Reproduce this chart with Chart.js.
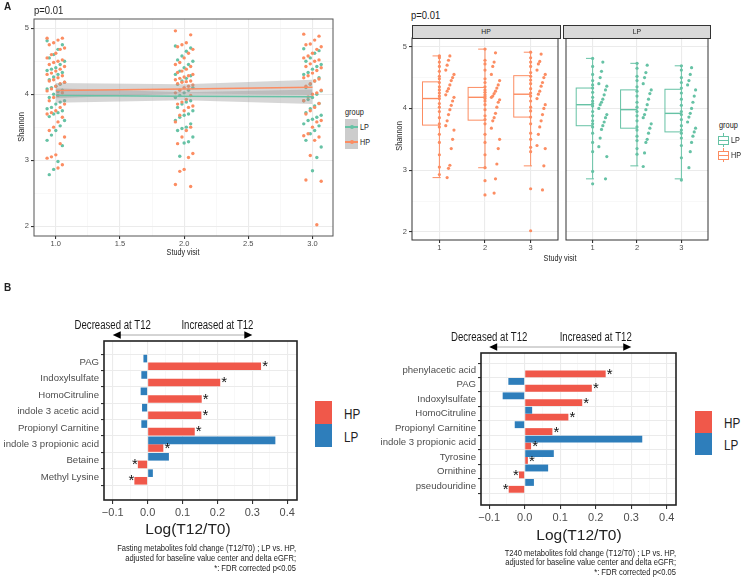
<!DOCTYPE html>
<html>
<head>
<meta charset="utf-8">
<script src="https://cdn.jsdelivr.net/npm/chart.js@4.4.0/dist/chart.umd.min.js"></script>
<style>
body { margin:0; background:#fff; width:747px; height:579px; position:relative; overflow:hidden;
  font-family:"Liberation Sans",Arial,sans-serif; }
canvas { position:absolute; }
.t { position:absolute; white-space:nowrap; color:#222; line-height:1; }
</style>
</head>
<body>
<canvas id="shannonLine" style="left:0;top:0;width:340px;height:262px" width="340" height="262"></canvas>
<canvas id="boxHP" style="left:380px;top:30px;width:182px;height:240px" width="182" height="240"></canvas>
<canvas id="boxLP" style="left:562px;top:30px;width:150px;height:240px" width="150" height="240"></canvas>
<canvas id="fasting" style="left:0;top:310px;width:300px;height:212px" width="300" height="212"></canvas>
<canvas id="t240" style="left:370px;top:318px;width:310px;height:209px" width="310" height="209"></canvas>
<script>
// ---- data ----
var visits = [1, 2, 3];

// Shannon index per patient
var hpVisit1 = [4.85,4.85,4.82,4.78,4.75,4.70,4.68,4.62,4.60,4.55,4.52,4.50,4.48,4.45,4.42,4.38,4.35,4.32,4.30,4.28,4.25,4.22,4.20,4.18,4.16,4.12,4.08,4.05,4.02,3.98,3.95,3.90,3.85,3.80,3.75,3.72,3.70,3.65,3.58,3.50,3.45,3.35,3.25,3.08,3.05,3.03,2.93,2.88];
var hpVisit2 = [4.96,4.90,4.78,4.75,4.72,4.68,4.62,4.55,4.48,4.45,4.42,4.38,4.35,4.33,4.30,4.28,4.26,4.24,4.22,4.20,4.19,4.18,4.16,4.14,4.12,4.10,4.06,4.02,3.98,3.92,3.88,3.85,3.82,3.80,3.75,3.68,3.58,3.50,3.45,3.35,3.25,3.10,3.04,2.86,2.83,2.63,2.60];
var hpVisit3 = [4.91,4.88,4.82,4.76,4.75,4.72,4.68,4.62,4.58,4.55,4.52,4.50,4.46,4.42,4.40,4.36,4.32,4.28,4.25,4.23,4.20,4.16,4.12,4.06,4.02,4.00,3.96,3.90,3.86,3.80,3.75,3.70,3.60,3.58,3.50,3.40,3.37,3.35,3.30,3.07,2.70,2.68,2.02];
var lpVisit1 = [4.81,4.75,4.68,4.60,4.55,4.50,4.45,4.40,4.38,4.36,4.33,4.30,4.26,4.22,4.18,4.15,4.12,4.10,4.08,4.06,4.04,4.00,3.95,3.90,3.88,3.85,3.80,3.78,3.75,3.72,3.70,3.66,3.60,3.52,3.45,3.38,3.30,3.22,2.98,2.86,2.78];
var lpVisit2 = [4.73,4.70,4.65,4.58,4.52,4.50,4.45,4.40,4.35,4.30,4.28,4.24,4.20,4.15,4.10,4.06,4.02,3.98,3.95,3.90,3.88,3.85,3.80,3.75,3.70,3.68,3.65,3.60,3.55,3.50,3.48,3.45,3.35,3.28,3.26,3.06];
var lpVisit3 = [4.69,4.66,4.62,4.55,4.50,4.45,4.42,4.38,4.33,4.30,4.25,4.20,4.15,4.10,4.05,4.00,3.95,3.92,3.90,3.86,3.82,3.78,3.72,3.68,3.65,3.62,3.60,3.55,3.52,3.45,3.40,3.30,3.20,3.04,2.84];

// linear fits with confidence band
var hpFit = [4.055, 4.08, 4.105];
var hpBandLow = [3.94, 4.01, 3.99];
var hpBandHigh = [4.17, 4.15, 4.22];
var lpFit = [3.98, 3.97, 3.96];
var lpBandLow = [3.87, 3.91, 3.85];
var lpBandHigh = [4.09, 4.03, 4.07];

// boxplot stats per visit
var hpQ1 = [3.73, 3.81, 3.86], hpMedian = [4.16, 4.18, 4.23], hpQ3 = [4.43, 4.34, 4.53];
var hpWhiskLo = [2.88, 3.04, 3.07], hpWhiskHi = [4.85, 4.96, 4.91];
var lpQ1 = [3.72, 3.68, 3.62], lpMedian = [4.06, 3.98, 3.92], lpQ3 = [4.33, 4.30, 4.31];
var lpWhiskLo = [2.86, 3.07, 2.86], lpWhiskHi = [4.81, 4.73, 4.69];

// metabolite fold changes, Log(T12/T0)
var fastingNames = ['PAG', 'Indoxylsulfate', 'HomoCitruline', 'indole 3 acetic acid', 'Propionyl Carnitine', 'indole 3 propionic acid', 'Betaine', 'Methyl Lysine'];
var fastingHP = [0.325, 0.208, 0.155, 0.154, 0.135, 0.045, -0.028, -0.038];
var fastingLP = [-0.012, -0.018, -0.020, -0.016, -0.018, 0.366, 0.061, 0.015];
var t240Names = ['phenylacetic acid', 'PAG', 'Indoxylsulfate', 'HomoCitruline', 'Propionyl Carnitine', 'indole 3 propionic acid', 'Tyrosine', 'Ornithine', 'pseudouridine'];
var t240HP = [0.228, 0.189, 0.162, 0.123, 0.078, 0.018, 0.009, -0.016, -0.045];
var t240LP = [0, -0.046, -0.062, 0.021, -0.028, 0.331, 0.082, 0.066, 0.026];
var arrowSpan = [-0.1, 0.3];
var arrowTextAt = [-0.1, 0.2];

// ---- style ----
var HP_COL = '#FC8D62', LP_COL = '#66C2A5';
var HP_BAR = '#F0584A', LP_BAR = '#2E7EBB';
var FONT = '"Liberation Sans",Arial,sans-serif';
Chart.defaults.font.family = FONT;
Chart.defaults.animation = false;
Chart.defaults.plugins.legend.display = false;
Chart.defaults.plugins.tooltip.enabled = false;

function isStep(v, step) { return Math.abs(v / step - Math.round(v / step)) < 1e-6; }

function gridOpts(major, tickLen) {
  return {
    color: function(c) { return isStep(c.tick.value, major) ? '#EBEBEB' : '#F4F4F4'; },
    lineWidth: function(c) { return isStep(c.tick.value, major) ? 1.1 : 0.6; },
    tickColor: function(c) { return isStep(c.tick.value, major) ? '#333' : 'rgba(0,0,0,0)'; },
    tickLength: tickLen
  };
}

function border(color, w) {
  return { id: 'border', afterDraw: function(chart) {
    var a = chart.chartArea, c = chart.ctx;
    c.save(); c.strokeStyle = color; c.lineWidth = w;
    c.strokeRect(a.left, a.top, a.right - a.left, a.bottom - a.top);
    c.restore();
  }};
}

// absolutely placed text; sx squeezes it sideways like the narrow figure font
function txt(s, x, y, o) {
  o = o || {};
  var d = document.createElement('div');
  d.className = 't';
  d.textContent = s;
  d.style.left = x + 'px';
  d.style.top = y + 'px';
  d.style.fontSize = (o.size || 9) + 'px';
  if (o.bold) d.style.fontWeight = 'bold';
  if (o.color) d.style.color = o.color;
  var tx = o.align == 'c' ? '-50%' : o.align == 'r' ? '-100%' : '0';
  var ox = o.align == 'c' ? '50%' : o.align == 'r' ? '100%' : '0';
  d.style.transformOrigin = ox + ' 50%';
  d.style.transform = 'translate(' + tx + ',-50%)' + (o.rot ? ' rotate(-90deg)' : '') + ' scaleX(' + (o.sx || 1) + ')';
  document.body.appendChild(d);
  return d;
}

function box(x, y, w, h, css) {
  var d = document.createElement('div');
  d.style.position = 'absolute';
  d.style.left = x + 'px'; d.style.top = y + 'px';
  d.style.width = w + 'px'; d.style.height = h + 'px';
  d.style.cssText += css || '';
  document.body.appendChild(d);
  return d;
}

// ---- A left: Shannon vs study visit ----
function swarm(vals, visit) {
  return vals.map(function(v, i) { return { x: visit + (((i * 7) % 9) - 4) * 0.017, y: v }; });
}
function fitPts(arr) { return arr.map(function(v, i) { return { x: visits[i], y: v }; }); }

var hpPts = swarm(hpVisit1, 1).concat(swarm(hpVisit2, 2), swarm(hpVisit3, 3));
var lpPts = swarm(lpVisit1, 1).concat(swarm(lpVisit2, 2), swarm(lpVisit3, 3));

new Chart(document.getElementById('shannonLine'), {
  type: 'scatter',
  data: {
    datasets: [
      { data: fitPts(lpFit), showLine: true, borderColor: LP_COL, borderWidth: 1.5, pointRadius: 0, order: 0 },
      { data: fitPts(hpFit), showLine: true, borderColor: HP_COL, borderWidth: 1.5, pointRadius: 0, order: 0 },
      { data: fitPts(lpBandHigh), showLine: true, borderWidth: 0, pointRadius: 0, fill: '+1', backgroundColor: 'rgba(153,153,153,0.4)', order: 1 },
      { data: fitPts(lpBandLow), showLine: true, borderWidth: 0, pointRadius: 0, order: 1 },
      { data: fitPts(hpBandHigh), showLine: true, borderWidth: 0, pointRadius: 0, fill: '+1', backgroundColor: 'rgba(153,153,153,0.4)', order: 1 },
      { data: fitPts(hpBandLow), showLine: true, borderWidth: 0, pointRadius: 0, order: 1 },
      { data: lpPts, pointRadius: 1.7, backgroundColor: LP_COL, borderWidth: 0, order: 3 },
      { data: hpPts, pointRadius: 1.7, backgroundColor: HP_COL, borderWidth: 0, order: 2 }
    ]
  },
  options: {
    responsive: false,
    layout: { padding: { top: 19, right: 7 } },
    scales: {
      x: { type: 'linear', min: 0.83, max: 3.16,
        ticks: { stepSize: 0.25, includeBounds: false, autoSkip: false, maxRotation: 0, padding: 0, color: '#4d4d4d', font: { size: 7.5 },
          callback: function(v) { return isStep(v, 0.5) ? v.toFixed(1) : ''; } },
        grid: gridOpts(0.5, 3), border: { display: false },
        afterFit: function(s) { s.height = 26; } },
      y: { min: 1.85, max: 5.14,
        ticks: { stepSize: 0.5, includeBounds: false, autoSkip: false, padding: 2, color: '#4d4d4d', font: { size: 7.5 },
          callback: function(v) { return isStep(v, 1) ? String(v) : ''; } },
        grid: gridOpts(1, 3), border: { display: false },
        afterFit: function(s) { s.width = 34; } }
    }
  },
  plugins: [border('#555', 1)]
});

// ---- A right: boxplots faceted by group ----
function jit(vals, visit) {
  return vals.map(function(v, i) { return { x: i % 2 ? visit + 0.14 + ((i * 3) % 7) * 0.03 : visit, y: v }; });
}

function boxPlot(q1, med, q3, lo, hi, col) {
  return { id: 'boxplot', beforeDatasetsDraw: function(chart) {
    var c = chart.ctx, xs = chart.scales.x, ys = chart.scales.y;
    c.save(); c.strokeStyle = col; c.lineWidth = 1;
    visits.forEach(function(v, i) {
      var xr = xs.getPixelForValue(v), xl = xs.getPixelForValue(v - 0.37);
      var xc = xs.getPixelForValue(v - 0.15), xe = xs.getPixelForValue(v + 0.03);
      var y1 = ys.getPixelForValue(q1[i]), ym = ys.getPixelForValue(med[i]), y3 = ys.getPixelForValue(q3[i]);
      var yl = ys.getPixelForValue(lo[i]), yh = ys.getPixelForValue(hi[i]);
      c.strokeRect(xl, y3, xr - xl, y1 - y3);
      c.beginPath();
      c.moveTo(xr, y3); c.lineTo(xr, yh);
      c.moveTo(xr, y1); c.lineTo(xr, yl);
      c.moveTo(xc, yh); c.lineTo(xe, yh);
      c.moveTo(xc, yl); c.lineTo(xe, yl);
      c.stroke();
      c.lineWidth = 1.4;
      c.beginPath(); c.moveTo(xl, ym); c.lineTo(xr, ym); c.stroke();
      c.lineWidth = 1;
    });
    c.restore();
  }};
}

function facet(id, pts, col, stats, showY) {
  new Chart(document.getElementById(id), {
    type: 'scatter',
    data: { datasets: [{ data: pts, pointRadius: 1.6, backgroundColor: col, borderWidth: 0 }] },
    options: {
      responsive: false,
      layout: { padding: { top: 8, right: 2, left: showY ? 0 : 1 } },
      scales: {
        x: { type: 'linear', min: 0.4, max: 3.6,
          ticks: { stepSize: 1, includeBounds: false, autoSkip: false, maxRotation: 0, padding: 0, color: '#4d4d4d', font: { size: 7.5 } },
          grid: { color: '#EBEBEB', lineWidth: 1.1, tickColor: '#333', tickLength: 3 }, border: { display: false },
          afterFit: function(s) { s.height = 30; } },
        y: { min: 1.87, max: 5.14,
          ticks: { display: showY, stepSize: 0.5, includeBounds: false, autoSkip: false, padding: 2, color: '#4d4d4d', font: { size: 7.5 },
            callback: function(v) { return isStep(v, 1) ? String(v) : ''; } },
          grid: Object.assign(gridOpts(1, 3), { drawTicks: showY }), border: { display: false },
          afterFit: function(s) { s.width = showY ? 32 : 0; } }
      }
    },
    plugins: [boxPlot.apply(null, stats.concat([col])), border('#333', 1)]
  });
}

facet('boxHP', jit(hpVisit1, 1).concat(jit(hpVisit2, 2), jit(hpVisit3, 3)), HP_COL,
  [hpQ1, hpMedian, hpQ3, hpWhiskLo, hpWhiskHi], true);
facet('boxLP', jit(lpVisit1, 1).concat(jit(lpVisit2, 2), jit(lpVisit3, 3)), LP_COL,
  [lpQ1, lpMedian, lpQ3, lpWhiskLo, lpWhiskHi], false);

// ---- B: fold change bars ----
function fmt(v) {
  var s = Math.abs(v).toFixed(1);
  return v < -1e-9 ? '\u2212' + s : s;
}

function decor(hp) {
  return { id: 'decor', afterDraw: function(chart) {
    var c = chart.ctx, xs = chart.scales.x, ys = chart.scales.y, a = chart.chartArea;
    c.save();
    c.strokeStyle = '#222'; c.lineWidth = 1.6;
    c.strokeRect(a.left, a.top, a.right - a.left, a.bottom - a.top);
    // significance stars on HP bars
    c.fillStyle = '#111';
    c.font = '15px ' + FONT;
    c.textAlign = 'center'; c.textBaseline = 'alphabetic';
    hp.forEach(function(v, i) {
      var px = xs.getPixelForValue(v) + (v >= 0 ? 4 : -3);
      c.fillText('*', px, ys.getPixelForValue(i) + 8.5);
    });
    // direction arrow
    var ay = a.top - 6, x0 = xs.getPixelForValue(arrowSpan[0]), x1 = xs.getPixelForValue(arrowSpan[1]);
    c.strokeStyle = '#aaa'; c.lineWidth = 1;
    c.beginPath(); c.moveTo(x0 + 6, ay); c.lineTo(x1 - 6, ay); c.stroke();
    c.fillStyle = '#000';
    c.beginPath(); c.moveTo(x0, ay); c.lineTo(x0 + 8, ay - 3.8); c.lineTo(x0 + 8, ay + 3.8); c.closePath(); c.fill();
    c.beginPath(); c.moveTo(x1, ay); c.lineTo(x1 - 8, ay - 3.8); c.lineTo(x1 - 8, ay + 3.8); c.closePath(); c.fill();
    c.fillStyle = '#1a1a1a';
    c.font = '12px ' + FONT;
    c.textBaseline = 'middle';
    ['Decreased at T12', 'Increased at T12'].forEach(function(s, k) {
      c.save();
      c.translate(xs.getPixelForValue(arrowTextAt[k]), a.top - 15);
      c.scale(0.8, 1);
      c.fillText(s, 0, 0);
      c.restore();
    });
    c.restore();
  }};
}

function foldChart(id, names, hp, lp, o) {
  new Chart(document.getElementById(id), {
    type: 'bar',
    data: {
      datasets: [
        { label: 'LP', data: lp.map(function(v, i) { return { x: v, y: i }; }), backgroundColor: LP_BAR, categoryPercentage: o.cat, barPercentage: 1 },
        { label: 'HP', data: hp.map(function(v, i) { return { x: v, y: i }; }), backgroundColor: HP_BAR, categoryPercentage: o.cat, barPercentage: 1 }
      ]
    },
    options: {
      indexAxis: 'y',
      responsive: false,
      layout: { padding: { top: o.top, right: o.right } },
      scales: {
        x: { type: 'linear', min: o.xmin, max: o.xmax,
          ticks: { stepSize: 0.05, includeBounds: false, autoSkip: false, maxRotation: 0, padding: 2, color: '#4d4d4d', font: { size: 11 },
            callback: function(v) { return isStep(v, 0.1) ? fmt(v) : ''; } },
          grid: gridOpts(0.1, 4), border: { display: false },
          afterFit: function(s) { s.height = o.xh; } },
        y: { type: 'linear', reverse: true, min: o.ymin, max: o.ymax,
          ticks: { stepSize: 1, includeBounds: false, autoSkip: false, padding: 2, color: '#4d4d4d', font: { size: 9.6 },
            callback: function(v) { return names[v] || ''; } },
          grid: { color: '#EBEBEB', lineWidth: 1.1, tickColor: '#333', tickLength: 3 }, border: { display: false },
          afterFit: function(s) { s.width = o.yw; } }
      }
    },
    plugins: [decor(hp)]
  });
}

foldChart('fasting', fastingNames, fastingHP, fastingLP,
  { cat: 0.93, top: 31, right: 3, xmin: -0.125, xmax: 0.428, ymin: -0.7, ymax: 7.8, xh: 22, yw: 104 });
foldChart('t240', t240Names, t240HP, t240LP,
  { cat: 0.95, top: 35, right: 4, xmin: -0.123, xmax: 0.426, ymin: -0.62, ymax: 8.74, xh: 22, yw: 111 });

// ---- text, strips, legends ----
txt('A', 4, 7, { size: 10, bold: true });
txt('p=0.01', 34, 10, { size: 11, sx: 0.86 });
txt('Shannon', 21, 127, { size: 9, align: 'c', rot: true, sx: 0.82 });
txt('Study visit', 183, 252, { size: 9, align: 'c', sx: 0.8 });

txt('group', 345, 112, { size: 9, sx: 0.82 });
[['LP', LP_COL, 119], ['HP', HP_COL, 134]].forEach(function(k) {
  box(345, k[2], 13, 15, 'background:#CCCCCC;');
  box(345, k[2] + 7, 13, 1.5, 'background:' + k[1] + ';');
  box(349.5, k[2] + 6, 4, 4, 'background:' + k[1] + ';border-radius:50%;');
  txt(k[0], 360, k[2] + 8, { size: 8.5, sx: 0.85 });
});

txt('p=0.01', 411, 15, { size: 11, sx: 0.86 });
box(412, 25, 147, 12, 'background:#D9D9D9;border:1px solid #333;');
box(563, 25, 146, 12, 'background:#D9D9D9;border:1px solid #333;');
txt('HP', 486, 32, { size: 8, align: 'c', sx: 0.85 });
txt('LP', 637, 32, { size: 8, align: 'c', sx: 0.85 });
txt('Shannon', 399, 136, { size: 9, align: 'c', rot: true, sx: 0.82 });
txt('Study visit', 560, 258, { size: 9, align: 'c', sx: 0.8 });

txt('group', 719, 125, { size: 9, sx: 0.82 });
[['LP', LP_COL, 133], ['HP', HP_COL, 148]].forEach(function(k) {
  box(723, k[2], 1, 14, 'background:' + k[1] + ';');
  box(718, k[2] + 3, 9, 7, 'border:1px solid ' + k[1] + ';background:#fff;');
  box(718, k[2] + 7, 11, 1, 'background:' + k[1] + ';');
  txt(k[0], 731, k[2] + 7, { size: 8.5, sx: 0.85 });
});

txt('B', 4, 288, { size: 10, bold: true });
txt('Log(T12/T0)', 188, 529, { size: 15.5, align: 'c' });
txt('Log(T12/T0)', 579, 535, { size: 15.5, align: 'c' });

box(315, 401, 17, 23, 'background:' + HP_BAR + ';');
box(315, 424, 17, 23, 'background:' + LP_BAR + ';');
txt('HP', 344, 413, { size: 15, sx: 0.78 });
txt('LP', 344, 436, { size: 15, sx: 0.78 });
box(695, 411, 17, 22, 'background:' + HP_BAR + ';');
box(695, 433, 17, 22, 'background:' + LP_BAR + ';');
txt('HP', 724, 422, { size: 15, sx: 0.78 });
txt('LP', 724, 444, { size: 15, sx: 0.78 });

txt('Fasting metabolites fold change (T12/T0) ; LP vs. HP,', 296, 548, { size: 8.8, align: 'r', sx: 0.86 });
txt('adjusted for baseline value center and delta eGFR;', 296, 558, { size: 8.8, align: 'r', sx: 0.86 });
txt('*: FDR corrected p<0.05', 296, 568, { size: 8.8, align: 'r', sx: 0.86 });
txt('T240 metabolites fold change (T12/T0) ; LP vs. HP,', 676, 553, { size: 8.8, align: 'r', sx: 0.86 });
txt('adjusted for baseline value center and delta eGFR;', 676, 562, { size: 8.8, align: 'r', sx: 0.86 });
txt('*: FDR corrected p<0.05', 676, 572, { size: 8.8, align: 'r', sx: 0.86 });
</script>
</body>
</html>
